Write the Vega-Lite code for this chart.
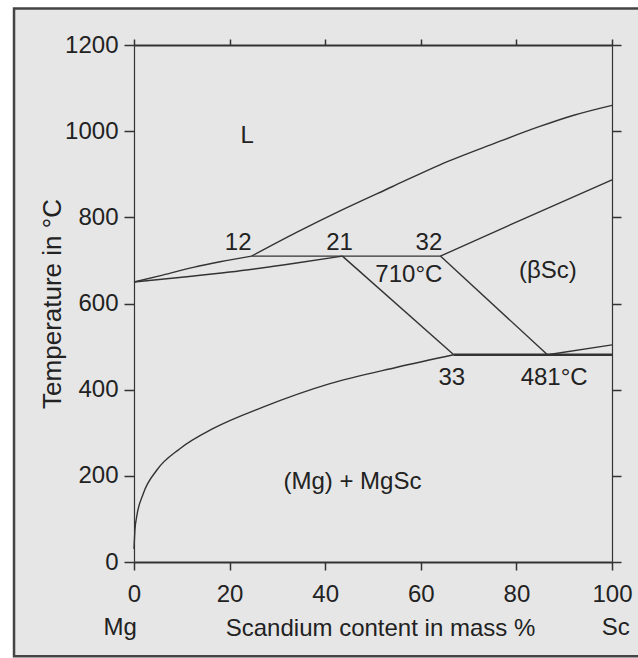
{
  "$schema": "https://vega.github.io/schema/vega-lite/v6.json",
  "width": 478,
  "height": 517,
  "autosize": {"type": "none"},
  "padding": {"left": 134, "top": 45, "right": 26, "bottom": 96},
  "background": "white",
  "config": {
    "view": {"stroke": null},
    "font": "Liberation Sans",
    "axis": {
      "grid": false,
      "domainColor": "#333",
      "tickColor": "#333",
      "labelColor": "#222",
      "titleColor": "#222",
      "labelFontSize": 24,
      "titleFontSize": 24,
      "titleFontWeight": "normal",
      "labelFont": "Liberation Sans",
      "titleFont": "Liberation Sans",
      "labelFlush": false,
      "labelOverlap": false,
      "format": "d"
    }
  },
  "datasets": {
    "lines": [
      {"curve": "liq1", "x": 0, "y": 650},
      {"curve": "liq1", "x": 6, "y": 666},
      {"curve": "liq1", "x": 12.4, "y": 684},
      {"curve": "liq1", "x": 18, "y": 697},
      {"curve": "liq1", "x": 24.6, "y": 710},
      {"curve": "liq2", "x": 24.6, "y": 710},
      {"curve": "liq2", "x": 34, "y": 765},
      {"curve": "liq2", "x": 43.1, "y": 815},
      {"curve": "liq2", "x": 54, "y": 871},
      {"curve": "liq2", "x": 64, "y": 922},
      {"curve": "liq2", "x": 75, "y": 970},
      {"curve": "liq2", "x": 84.9, "y": 1011},
      {"curve": "liq2", "x": 92, "y": 1037},
      {"curve": "liq2", "x": 100, "y": 1060},
      {"curve": "sol", "x": 0, "y": 650},
      {"curve": "sol", "x": 10, "y": 661},
      {"curve": "sol", "x": 20, "y": 673},
      {"curve": "sol", "x": 34, "y": 694},
      {"curve": "sol", "x": 43.6, "y": 710},
      {"curve": "eut710", "x": 24.6, "y": 710},
      {"curve": "eut710", "x": 64.1, "y": 710},
      {"curve": "liqSc", "x": 64.1, "y": 710},
      {"curve": "liqSc", "x": 81.4, "y": 796},
      {"curve": "liqSc", "x": 100, "y": 887},
      {"curve": "l21", "x": 43.6, "y": 710},
      {"curve": "l21", "x": 66.9, "y": 481},
      {"curve": "l32", "x": 64.1, "y": 710},
      {"curve": "l32", "x": 86.5, "y": 481},
      {"curve": "solvSc", "x": 86.5, "y": 481},
      {"curve": "solvSc", "x": 100, "y": 504},
      {"curve": "solvMg", "x": 0, "y": 30},
      {"curve": "solvMg", "x": 0.2, "y": 75},
      {"curve": "solvMg", "x": 0.56, "y": 105},
      {"curve": "solvMg", "x": 1.95, "y": 159},
      {"curve": "solvMg", "x": 4.75, "y": 213},
      {"curve": "solvMg", "x": 9.6, "y": 263},
      {"curve": "solvMg", "x": 16.6, "y": 310},
      {"curve": "solvMg", "x": 27.1, "y": 360},
      {"curve": "solvMg", "x": 41, "y": 414},
      {"curve": "solvMg", "x": 55, "y": 452},
      {"curve": "solvMg", "x": 66.9, "y": 481}
    ],
    "eut481": [
      {"x": 66.9, "y": 481},
      {"x": 100, "y": 481}
    ],
    "labels": [
      {"x": 23.7, "y": 988, "label": "L"},
      {"x": 21.8, "y": 740, "label": "12"},
      {"x": 43.0, "y": 740, "label": "21"},
      {"x": 61.7, "y": 740, "label": "32"},
      {"x": 57.5, "y": 665, "label": "710°C"},
      {"x": 86.6, "y": 676, "label": "(βSc)"},
      {"x": 66.5, "y": 428, "label": "33"},
      {"x": 87.9, "y": 428, "label": "481°C"},
      {"x": 45.7, "y": 186, "label": "(Mg) + MgSc"},
      {"x": -2.9, "y": -153, "label": "Mg"},
      {"x": 100.8, "y": -153, "label": "Sc"}
    ]
  },
  "layer": [
    {
      "data": {"values": [{}]},
      "mark": {"type": "rect", "fill": "#e6e6e6", "stroke": "#444", "strokeWidth": 2.5},
      "encoding": {
        "x": {"datum": -25.1, "type": "quantitative", "scale": {"domain": [0, 100], "nice": false, "zero": false}, "axis": null},
        "x2": {"datum": 112},
        "y": {"datum": 1284.5, "type": "quantitative", "scale": {"domain": [0, 1200], "nice": false, "zero": false}, "axis": null},
        "y2": {"datum": -218.9}
      }
    },
    {
      "data": {"name": "lines"},
      "mark": {"type": "line", "color": "#333", "strokeWidth": 1.4, "interpolate": "monotone"},
      "encoding": {
        "x": {
          "field": "x", "type": "quantitative",
          "scale": {"domain": [0, 100], "nice": false, "zero": false},
          "axis": {
            "orient": "bottom", "zindex": 2, "values": [0, 20, 40, 60, 80, 100],
            "tickSize": 8, "tickWidth": 1.5, "domainWidth": 2, "labelPadding": 12,
            "title": "Scandium content in mass %",
            "titleX": 246, "titleY": 66, "titleBaseline": "middle", "titleAlign": "center"
          }
        },
        "y": {
          "field": "y", "type": "quantitative",
          "scale": {"domain": [0, 1200], "nice": false, "zero": false},
          "axis": {
            "orient": "left", "zindex": 2, "values": [0, 200, 400, 600, 800, 1000, 1200],
            "tickSize": 10, "tickWidth": 1.5, "domainWidth": 1.2, "labelPadding": 6,
            "title": "Temperature in °C", "titleFontSize": 26,
            "titleX": -82, "titleY": 258.5, "titleBaseline": "middle", "titleAlign": "center", "titleAngle": -90
          }
        },
        "detail": {"field": "curve"}
      }
    },
    {
      "data": {"name": "eut481"},
      "mark": {"type": "line", "color": "#333", "strokeWidth": 2.4},
      "encoding": {
        "x": {"field": "x", "type": "quantitative", "scale": {"domain": [0, 100], "nice": false, "zero": false}, "axis": null},
        "y": {"field": "y", "type": "quantitative", "scale": {"domain": [0, 1200], "nice": false, "zero": false}, "axis": null}
      }
    },
    {
      "data": {"name": "labels"},
      "mark": {"type": "text", "fontSize": 24, "color": "#222", "font": "Liberation Sans"},
      "encoding": {
        "x": {
          "field": "x", "type": "quantitative",
          "scale": {"domain": [0, 100], "nice": false, "zero": false},
          "axis": {"orient": "top", "zindex": 2, "values": [0, 20, 40, 60, 80, 100], "tickSize": 6, "tickWidth": 1.5, "labels": false, "title": null, "domainWidth": 2}
        },
        "y": {
          "field": "y", "type": "quantitative",
          "scale": {"domain": [0, 1200], "nice": false, "zero": false},
          "axis": {"orient": "right", "zindex": 2, "values": [0, 200, 400, 600, 800, 1000, 1200], "tickSize": 9, "tickWidth": 1.5, "labels": false, "title": null, "domainWidth": 1.2}
        },
        "text": {"field": "label"}
      }
    }
  ],
  "resolve": {"axis": {"x": "independent", "y": "independent"}}
}
